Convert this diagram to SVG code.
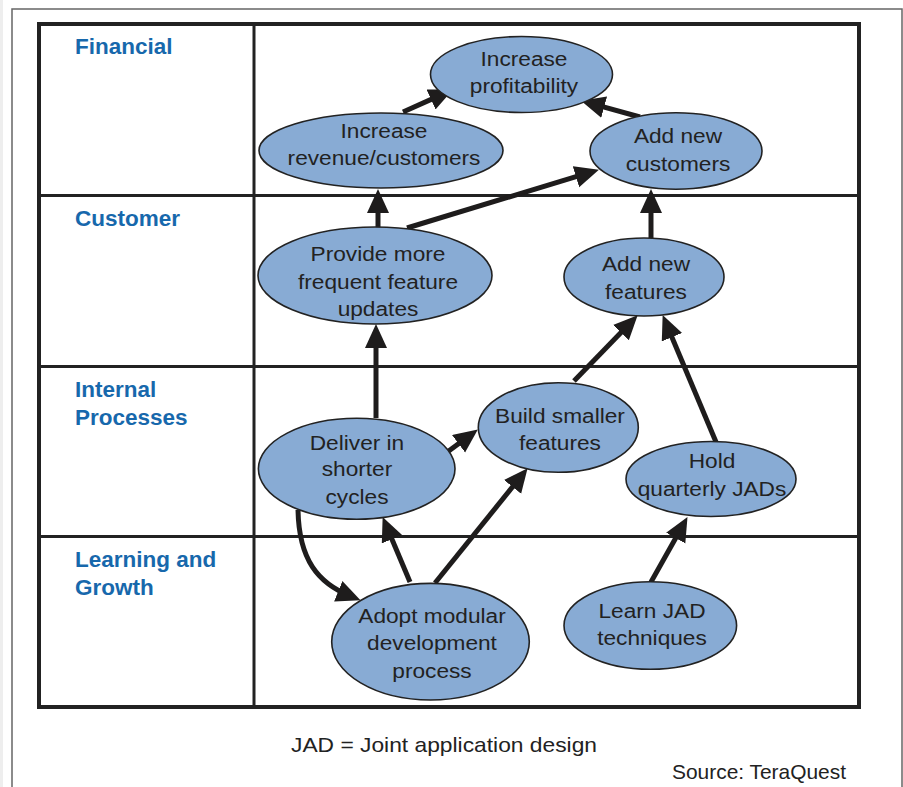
<svg xmlns="http://www.w3.org/2000/svg" width="903" height="787" viewBox="0 0 903 787">
<style>
.lbl{font-family:"Liberation Sans",Arial,sans-serif;font-weight:bold;font-size:22.5px;fill:#1768ac}
.nd ellipse{fill:#88abd4;stroke:#222;stroke-width:1.6}
.nd text{font-family:"Liberation Sans",Arial,sans-serif;font-size:21px;fill:#222;text-anchor:middle}
.grid{stroke:#222;fill:none}
.con path{stroke:#1e1c1c;stroke-width:5;fill:none;marker-end:url(#ah)}
.foot{font-family:"Liberation Sans",Arial,sans-serif;font-size:21px;fill:#222}
</style>
<defs>
<marker id="ah" markerUnits="userSpaceOnUse" markerWidth="26" markerHeight="24" refX="13" refY="11" orient="auto">
<path d="M0,0 L24,11 L0,22 z" fill="#1e1c1c"/>
</marker>
</defs>
<rect width="903" height="787" fill="#fff"/>
<rect x="0" y="0" width="3" height="787" fill="#eee"/>
<path d="M12,787 V9 H902 V787" fill="none" stroke="#666" stroke-width="1.5"/>
<g id="grid">
<rect class="grid" x="39" y="24" width="820" height="683" stroke-width="4"/>
<line class="grid" x1="254" y1="24" x2="254" y2="707" stroke-width="3"/>
<line class="grid" x1="39" y1="195.5" x2="859" y2="195.5" stroke-width="3"/>
<line class="grid" x1="39" y1="366.5" x2="859" y2="366.5" stroke-width="3"/>
<line class="grid" x1="39" y1="536.5" x2="859" y2="536.5" stroke-width="3"/>
</g>
<g id="labels">
<text class="lbl" x="75" y="54">Financial</text>
<text class="lbl" x="75" y="225.5">Customer</text>
<text class="lbl" x="75" y="397">Internal</text>
<text class="lbl" x="75" y="424.5">Processes</text>
<text class="lbl" x="75" y="567">Learning and</text>
<text class="lbl" x="75" y="594.5">Growth</text>
</g>
<g id="connectors" class="con">
<path d="M403,112 L442.9,94.1"/>
<path d="M640,117 L591.6,103.7"/>
<path d="M378,228 L378,200"/>
<path d="M407,228 L588.4,172.9"/>
<path d="M651,238 L651,200"/>
<path d="M376,418 L376,335"/>
<path d="M446,453 L469,436"/>
<path d="M574,381 L630,323.2"/>
<path d="M716,442 L666.9,325.2"/>
<path d="M435,583 L520.7,476.8"/>
<path d="M410,582 L386.9,527.2"/>
<path d="M298,510 C299,560 318,583 350.3,596.1"/>
<path d="M651,582 L682.1,526.7"/>
</g>
<g id="n-profit" class="nd"><ellipse cx="521.5" cy="74.5" rx="91" ry="38"/><g transform="matrix(1.08,0,0,1,-41.92,0)"><text x="524" y="66">Increase</text><text x="524" y="93">profitability</text></g></g>
<g id="n-revenue" class="nd"><ellipse cx="381" cy="150.5" rx="122" ry="37.5"/><g transform="matrix(1.08,0,0,1,-30.72,0)"><text x="384" y="138.5">Increase</text><text x="384" y="165">revenue/customers</text></g></g>
<g id="n-newcust" class="nd"><ellipse cx="676" cy="151" rx="86" ry="38.3"/><g transform="matrix(1.08,0,0,1,-54.24,0)"><text x="678" y="143.5">Add new</text><text x="678" y="171.5">customers</text></g></g>
<g id="n-provide" class="nd"><ellipse cx="375" cy="275.5" rx="117" ry="48.5"/><g transform="matrix(1.08,0,0,1,-30.24,0)"><text x="378" y="261">Provide more</text><text x="378" y="289">frequent feature</text><text x="378" y="316">updates</text></g></g>
<g id="n-newfeat" class="nd"><ellipse cx="644" cy="277" rx="80" ry="39"/><g transform="matrix(1.08,0,0,1,-51.68,0)"><text x="646" y="271.5">Add new</text><text x="646" y="299">features</text></g></g>
<g id="n-deliver" class="nd"><ellipse cx="356.7" cy="468.8" rx="98.3" ry="50.5"/><g transform="matrix(1.08,0,0,1,-28.56,0)"><text x="357" y="450">Deliver in</text><text x="357" y="476.5">shorter</text><text x="357" y="504">cycles</text></g></g>
<g id="n-build" class="nd"><ellipse cx="558.3" cy="427.5" rx="80" ry="44.8"/><g transform="matrix(1.08,0,0,1,-44.8,0)"><text x="560" y="423">Build smaller</text><text x="560" y="450">features</text></g></g>
<g id="n-hold" class="nd"><ellipse cx="711" cy="479" rx="85" ry="37.5"/><g transform="matrix(1.08,0,0,1,-56.96,0)"><text x="712" y="468.5">Hold</text><text x="712" y="496">quarterly JADs</text></g></g>
<g id="n-adopt" class="nd"><ellipse cx="430.5" cy="641.7" rx="98.8" ry="58.3"/><g transform="matrix(1.08,0,0,1,-34.56,0)"><text x="432" y="623.5">Adopt modular</text><text x="432" y="650.5">development</text><text x="432" y="678">process</text></g></g>
<g id="n-learn" class="nd"><ellipse cx="650.3" cy="625.5" rx="86.3" ry="43.8"/><g transform="matrix(1.08,0,0,1,-52.16,0)"><text x="652" y="618">Learn JAD</text><text x="652" y="645.5">techniques</text></g></g>
<text class="foot" x="291" y="752" textLength="306" lengthAdjust="spacingAndGlyphs">JAD = Joint application design</text>
<text class="foot" x="672" y="779" textLength="174" lengthAdjust="spacingAndGlyphs">Source: TeraQuest</text>
</svg>
